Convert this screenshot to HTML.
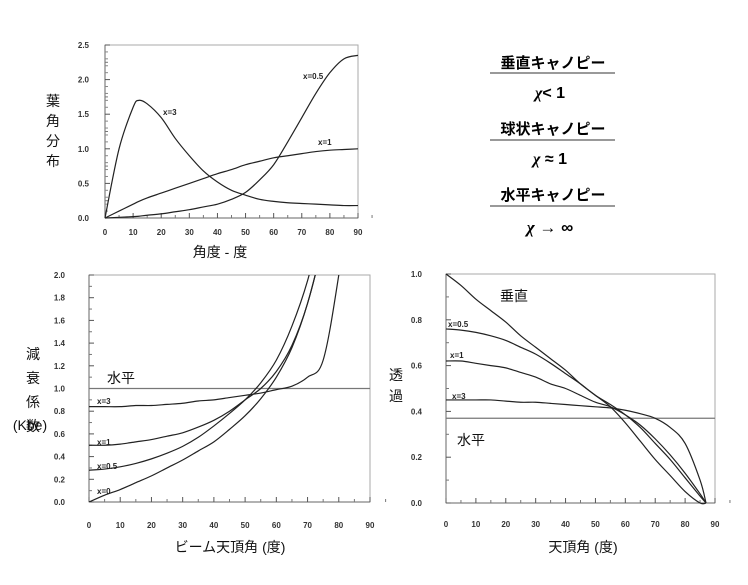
<!DOCTYPE html>
<html><head><meta charset="utf-8"><style>
body{margin:0;background:#fff;}
svg text{font-family:"Liberation Sans","Noto Sans CJK JP",sans-serif;}
.tk{font-size:8px;font-weight:bold;fill:#333;}
.ti{font-size:14px;fill:#111;}
.lb{font-size:8px;font-weight:bold;fill:#222;}
</style></head><body>
<svg id="s" width="748" height="580" viewBox="0 0 748 580">
<defs>
<clipPath id="c2"><rect x="89" y="275" width="281" height="227"/></clipPath>
</defs>
<g font-family="Liberation Sans, Noto Sans CJK JP, sans-serif">
<text x="553" y="68" text-anchor="middle" font-size="15" font-weight="bold">垂直キャノピー</text>
<line x1="490" y1="73" x2="615" y2="73" stroke="#333"/>
<text x="550" y="98" text-anchor="middle" font-size="16" font-weight="bold"><tspan font-style="italic" font-family="Liberation Serif">χ</tspan>&lt; 1</text>
<text x="553" y="134" text-anchor="middle" font-size="15" font-weight="bold">球状キャノピー</text>
<line x1="490" y1="140" x2="615" y2="140" stroke="#333"/>
<text x="550" y="164" text-anchor="middle" font-size="16" font-weight="bold"><tspan font-style="italic" font-family="Liberation Serif">χ</tspan> ≈ 1</text>
<text x="553" y="200" text-anchor="middle" font-size="15" font-weight="bold">水平キャノピー</text>
<line x1="490" y1="206" x2="615" y2="206" stroke="#333"/>
<text x="550" y="233" text-anchor="middle" font-size="17" font-weight="bold"><tspan font-style="italic" font-family="Liberation Serif">χ</tspan> → ∞</text>
</g>
</svg>
<script>
// Chart 1: leaf angle distribution
const c1Angles=[0,5,10,12,15,20,25,30,35,40,45,50,55,60,65,70,75,80,85,90];
const c1X3=[0,1.0,1.6,1.7,1.65,1.45,1.15,0.9,0.68,0.52,0.4,0.33,0.27,0.24,0.22,0.21,0.2,0.19,0.18,0.18];
const c1X1=[0,0.1,0.2,0.24,0.29,0.36,0.43,0.5,0.57,0.64,0.7,0.77,0.82,0.87,0.9,0.93,0.96,0.98,0.99,1.0];
const c1X05=[0,0.01,0.02,0.025,0.04,0.06,0.09,0.12,0.16,0.2,0.27,0.37,0.55,0.77,1.1,1.45,1.8,2.1,2.3,2.35];
const c1YTicks=[0,0.5,1.0,1.5,2.0,2.5];
// Chart 2: extinction coefficient
const c2Angles=[0,5,10,15,20,25,30,35,40,45,50,55,60,65,70,75,80,85];
const c2X0=[0,0.06,0.11,0.17,0.23,0.3,0.37,0.45,0.53,0.64,0.76,0.91,1.1,1.36,1.75,2.3,3,4];
const c2X05=[0.28,0.29,0.31,0.34,0.38,0.43,0.49,0.57,0.67,0.78,0.9,1.05,1.25,1.55,1.95,2.5,3,4];
const c2X1=[0.5,0.5,0.51,0.53,0.55,0.58,0.61,0.66,0.72,0.8,0.9,1.0,1.15,1.38,1.75,2.3,3,4];
const c2X3=[0.84,0.84,0.84,0.85,0.85,0.86,0.87,0.89,0.9,0.92,0.94,0.96,0.99,1.02,1.1,1.25,2.0,3];
const c2Horizontal=1.0;
const c2YTicks=[0,0.2,0.4,0.6,0.8,1.0,1.2,1.4,1.6,1.8,2.0];
// Chart 3: transmission
const c3Angles=[0,5,10,15,20,25,30,35,40,45,50,55,60,65,70,75,80,85,87];
const c3Vertical=[1,0.95,0.89,0.84,0.79,0.73,0.68,0.63,0.58,0.52,0.47,0.42,0.35,0.27,0.19,0.12,0.05,0.0,0.0];
const c3X05=[0.76,0.755,0.745,0.73,0.71,0.68,0.65,0.61,0.565,0.52,0.47,0.43,0.385,0.33,0.26,0.19,0.11,0.03,0.0];
const c3X1=[0.62,0.62,0.61,0.6,0.59,0.57,0.55,0.52,0.5,0.47,0.44,0.42,0.385,0.34,0.28,0.21,0.13,0.04,0.0];
const c3X3=[0.45,0.45,0.45,0.45,0.445,0.44,0.44,0.435,0.43,0.425,0.42,0.415,0.405,0.39,0.37,0.33,0.26,0.1,0.0];
const c3Horizontal=0.37;
const c3YTicks=[0,0.2,0.4,0.6,0.8,1.0];
const xTicks=[0,10,20,30,40,50,60,70,80,90];

const NS='http://www.w3.org/2000/svg';
const svg=document.getElementById('s');
function mk(tag,attrs,parent,txt){const e=document.createElementNS(NS,tag);for(const k in attrs)e.setAttribute(k,attrs[k]);if(txt!==undefined)e.textContent=txt;(parent||svg).appendChild(e);return e;}
function smooth(pts){let d='M'+pts[0][0]+','+pts[0][1];for(let i=0;i<pts.length-1;i++){const p0=pts[i-1]||pts[i],p1=pts[i],p2=pts[i+1],p3=pts[i+2]||p2;d+=' C'+(p1[0]+(p2[0]-p0[0])/6)+','+(p1[1]+(p2[1]-p0[1])/6)+' '+(p2[0]-(p3[0]-p1[0])/6)+','+(p2[1]-(p3[1]-p1[1])/6)+' '+p2[0]+','+p2[1];}return d;}

function chart(cfg){
  const g=mk('g',{});
  
  
  const sx=v=>cfg.x0+(cfg.x1-cfg.x0)*v/90;
  const sy=v=>cfg.y0-(cfg.y0-cfg.y1)*v/cfg.ymax;
  const frame=mk('rect',{x:cfg.x0,y:cfg.y1,width:cfg.x1-cfg.x0,height:cfg.y0-cfg.y1,fill:'none',stroke:'#aaa','stroke-width':1},g);
  
  
  mk('line',{x1:cfg.x0,y1:cfg.y0,x2:cfg.x1,y2:cfg.y0,stroke:'#666'},g);
  mk('line',{x1:cfg.x0,y1:cfg.y0,x2:cfg.x0,y2:cfg.y1,stroke:'#666'},g);
  xTicks.forEach(t=>{
    mk('line',{x1:sx(t),y1:cfg.y0,x2:sx(t),y2:cfg.y0-5,stroke:'#555'},g);
    mk('line',{x1:sx(t+5),y1:cfg.y0,x2:sx(t+5),y2:cfg.y0-3,stroke:'#777'},g);
    const tl=mk('text',{x:sx(t),y:cfg.y0+cfg.xlOff,'text-anchor':'middle',class:'tk'},g,String(t));
    
    
  });
  cfg.yTicks.forEach((t,i)=>{
    mk('line',{x1:cfg.x0,y1:sy(t),x2:cfg.x0+5,y2:sy(t),stroke:'#555'},g);
    if(i<cfg.yTicks.length-1){const m=(t+cfg.yTicks[i+1])/2;mk('line',{x1:cfg.x0,y1:sy(m),x2:cfg.x0+3,y2:sy(m),stroke:'#777'},g);
      if(cfg.minor5){for(let k=1;k<5;k++){const mm=t+(cfg.yTicks[i+1]-t)*k/5;mk('line',{x1:cfg.x0,y1:sy(mm),x2:cfg.x0+3,y2:sy(mm),stroke:'#888'},g);}}}
    const yl=mk('text',{x:cfg.x0-cfg.ylOff,y:sy(t)+3,'text-anchor':'end',class:'tk'},g,t.toFixed(1));
    
    
  });
  const sg=mk('g',cfg.clip?{'clip-path':'url(#'+cfg.clip+')'}:{},g);
  cfg.series.forEach(s=>{
    let pts;
    if(s.h!==undefined) pts=[[cfg.x0,sy(s.h)],[cfg.x1,sy(s.h)]];
    else pts=cfg.angles.map((a,i)=>[sx(a),sy(s.v[i])]);
    const p=mk('path',{d:s.h!==undefined?('M'+pts[0]+' L'+pts[1]):smooth(pts),fill:'none',stroke:s.h!==undefined?'#777':'#222','stroke-width':1.2},sg);
    
    
  });
  return g;
}
chart({name:'leaf-angle-chart',x0:105,x1:358,y0:218,y1:45,ymax:2.5,yTicks:c1YTicks,angles:c1Angles,xlOff:17,ylOff:16,minor5:true,
  series:[{name:'line-x3',v:c1X3},{name:'line-x1',v:c1X1},{name:'line-x05',v:c1X05}]});
chart({name:'extinction-chart',x0:89,x1:370,y0:502,y1:275,ymax:2.0,yTicks:c2YTicks,angles:c2Angles,xlOff:26,ylOff:24,clip:'c2',
  series:[{name:'line-horizontal',h:c2Horizontal},{name:'line-x0',v:c2X0},{name:'line-x05',v:c2X05},{name:'line-x1',v:c2X1},{name:'line-x3',v:c2X3}]});
chart({name:'transmission-chart',x0:446,x1:715,y0:503,y1:274,ymax:1.0,yTicks:c3YTicks,angles:c3Angles,xlOff:24,ylOff:24,
  series:[{name:'line-horizontal',h:c3Horizontal},{name:'line-vertical',v:c3Vertical},{name:'line-x05',v:c3X05},{name:'line-x1',v:c3X1},{name:'line-x3',v:c3X3}]});

function label(x,y,t,cls,name,extra){const e=mk('text',Object.assign({x:x,y:y,class:cls},extra||{}),svg,t);return e;}
// chart 1 labels
label(163,115,'x=3','lb','label-x3');
label(303,79,'x=0.5','lb','label-x05');
label(318,145,'x=1','lb','label-x1');
label(220,257,'角度 - 度','ti','x-axis-title',{'text-anchor':'middle'});
['葉','角','分','布'].forEach((c,i)=>label(53,106+i+i*19,c,'ti','y-axis-title',{'text-anchor':'middle'}));
// chart 2 labels
label(97,404,'x=3','lb','label-x3');
label(97,445,'x=1','lb','label-x1');
label(97,469,'x=0.5','lb','label-x05');
label(97,494,'x=0','lb','label-x0');
label(107,383,'水平','ti','label-horizontal');
label(230,552,'ビーム天頂角 (度)','ti','x-axis-title',{'text-anchor':'middle'});
['減','衰','係','数'].forEach((c,i)=>label(33,359+i*24,c,'ti','y-axis-title',{'text-anchor':'middle'}));
label(30,430,'(Kbe)','ti','y-axis-unit',{'text-anchor':'middle','font-size':'12'});
// chart 3 labels
label(448,327,'x=0.5','lb','label-x05');
label(450,358,'x=1','lb','label-x1');
label(452,399,'x=3','lb','label-x3');
label(500,301,'垂直','ti','label-vertical');
label(457,445,'水平','ti','label-horizontal');
label(583,552,'天頂角 (度)','ti','x-axis-title',{'text-anchor':'middle'});
['透','過'].forEach((c,i)=>label(396,380+i*21,c,'ti','y-axis-title',{'text-anchor':'middle'}));
</script>
</body></html>
